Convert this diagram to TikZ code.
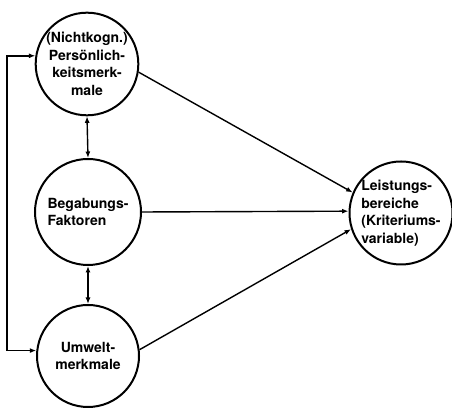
\documentclass[tikz,border=0pt]{standalone}
\usepackage{fontspec}
\setmainfont{TeX Gyre Heros}
\usepackage{tikz}
\usetikzlibrary{arrows.meta, calc}
\tikzset{
    factor/.style={circle, draw=black, line width=2pt, inner sep=0pt, font=\fontsize{14}{17.5}\selectfont\bfseries},
    arrow/.style={-{Latex[length=6.5pt, width=5pt]}, line width=1.4pt},
    twoway/.style={{Latex[length=6.5pt, width=5pt]}-{Latex[length=6.5pt, width=5pt]}, line width=1.4pt}
}
\begin{document}
\begin{tikzpicture}[x=1pt, y=1pt]
\useasboundingbox (0,0) rectangle (452,411);

% Predictor circles (left column)
\node[factor, minimum size=102pt, align=center] (pers) at (87,347) {(Nichtkogn.)\\Persönlich-\\keitsmerk-\\male};
\node[factor, minimum size=106pt, align=left] (begab) at (88,199) {Begabungs-\\Faktoren};
\node[factor, minimum size=102pt, align=center] (umwelt) at (88,55) {Umwelt-\\merkmale};

% Criterion circle
\node[factor, minimum size=93pt, align=left] (leist) at (401,198) {Leistungs-\\bereiche\\(Kriteriums-\\variable)};

% Feedback line on the left
\coordinate (fb) at (7,0);
\draw[twoway] (pers.171) -- (pers.171 -| fb) -- (umwelt.174 -| fb) -- (umwelt.174);

% Links between the predictors
\draw[twoway] (pers.south) -- (begab.north);
\draw[twoway] (begab.south) -- (umwelt.north);

% Arrows to the criterion
\draw[arrow] (pers.-9) -- (leist.157);
\draw[arrow] (begab.east) -- (leist.178);
\draw[arrow] (umwelt.7) -- (leist.-162);

\end{tikzpicture}
\end{document}
